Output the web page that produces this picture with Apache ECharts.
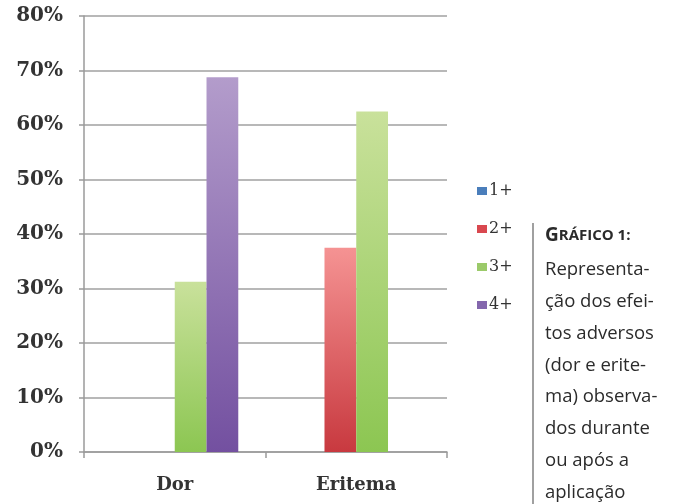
<!DOCTYPE html>
<html><head><meta charset="utf-8">
<script src="https://cdn.jsdelivr.net/npm/echarts@6/dist/echarts.min.js"></script>
<style>html,body{margin:0;padding:0;background:#fff}#c{width:676px;height:504px}</style>
</head><body><div id="c"></div>
<script>
const categories = ['Dor', 'Eritema'];
const seriesNames = ['1+', '2+', '3+', '4+'];
const s1 = [0, 0];
const s2 = [0, 37.5];
const s3 = [31.25, 62.5];
const s4 = [68.75, 0];
const yTicks = [0, 10, 20, 30, 40, 50, 60, 70, 80];
const captionLines = ['Representa-', 'ção dos efei-', 'tos adversos', '(dor e erite-', 'ma) observa-', 'dos durante', 'ou após a', 'aplicação'];

function grad(top, bottom) {
  return new echarts.graphic.LinearGradient(0, 0, 0, 1, [{offset: 0, color: top}, {offset: 1, color: bottom}]);
}
const colors = [
  grad('#7aa7dc', '#3f74b5'),
  grad('#f59393', '#c8393f'),
  grad('#c9e19b', '#8cc652'),
  grad('#b39ccb', '#7350a0')
];
const legendColors = ['#4a7ebb', '#d9484f', '#9bca6a', '#8467ad'];
const data = [s1, s2, s3, s4];

const chart = echarts.init(document.getElementById('c'), null, {renderer: 'canvas'});
const serifFont = '"DejaVu Serif", "Liberation Serif", serif';
const capFont = '"Open Sans", "Noto Sans", sans-serif';
chart.setOption({
  animation: false,
  backgroundColor: '#ffffff',
  grid: {left: 84, right: 229, top: 16, bottom: 52},
  legend: {
    orient: 'vertical', left: 472, top: 178, itemGap: 22,
    itemWidth: 10, itemHeight: 8, icon: 'rect',
    data: seriesNames.map((n, i) => ({name: n, itemStyle: {color: legendColors[i]}})),
    textStyle: {fontFamily: serifFont, fontSize: 16, color: '#333', padding: [0, 0, 0, -3]}
  },
  xAxis: {
    type: 'category', data: categories,
    axisLine: {lineStyle: {color: '#9a9a9a', width: 1.5}},
    axisTick: {show: true, length: 6, lineStyle: {color: '#9a9a9a', width: 1.5}},
    axisLabel: {margin: 24, fontFamily: serifFont, fontWeight: 'bold', fontSize: 18, color: '#333'}
  },
  yAxis: {
    type: 'value', min: 0, max: 80, interval: 10,
    axisLine: {show: true, lineStyle: {color: '#9a9a9a', width: 1.5}},
    axisTick: {show: true, length: 5, lineStyle: {color: '#9a9a9a', width: 1.5}},
    splitLine: {lineStyle: {color: '#a0a0a0', width: 1.5}},
    axisLabel: {margin: 21, fontFamily: serifFont, fontWeight: 'bold', fontSize: 20, color: '#333',
      formatter: v => yTicks.includes(v) ? v + '%' : ''}
  },
  series: seriesNames.map((n, i) => ({
    name: n, type: 'bar', data: data[i],
    barGap: '0%', barCategoryGap: '30%',
    itemStyle: {color: colors[i]}
  })),
  graphic: [
    {type: 'line', shape: {x1: 533, y1: 223, x2: 533, y2: 504}, style: {stroke: '#808080', lineWidth: 1.5}},
    {type: 'text', left: 545, top: 226, style: {
      text: '{a|G}{b|RÁFICO 1:}',
      rich: {
        a: {fontFamily: capFont, fontWeight: 'bold', fontSize: 19, fill: '#2b2b2b'},
        b: {fontFamily: capFont, fontWeight: 'bold', fontSize: 15, fill: '#2b2b2b'}
      }}},
    {type: 'text', left: 545, top: 254, style: {
      text: captionLines.join('\n'), lineHeight: 31.8,
      font: '18.5px ' + capFont, fill: '#2b2b2b'}}
  ]
});
</script></body></html>
